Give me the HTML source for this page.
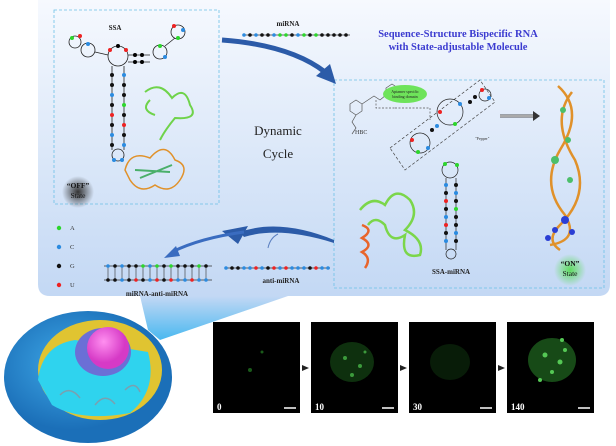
<!DOCTYPE html>
<html><head><meta charset="utf-8"><style>
html,body{margin:0;padding:0;background:#fff;}
svg{display:block;font-family:"Liberation Serif",serif;}
</style></head><body>
<svg width="616" height="446" viewBox="0 0 616 446" xmlns="http://www.w3.org/2000/svg">
<defs>
<linearGradient id="pg" x1="0" y1="0" x2="0" y2="1">
<stop offset="0" stop-color="#f6f9fe"/><stop offset="1" stop-color="#c3d8f4"/></linearGradient>
<linearGradient id="tg" x1="0" y1="0" x2="0" y2="1">
<stop offset="0" stop-color="#c3d8f4"/><stop offset="1" stop-color="#49b8f0"/></linearGradient>
<radialGradient id="glowg"><stop offset="0" stop-color="#5fdc5f"/><stop offset="1" stop-color="#5fdc5f" stop-opacity="0"/></radialGradient>
<radialGradient id="glowk"><stop offset="0" stop-color="#333"/><stop offset="1" stop-color="#333" stop-opacity="0"/></radialGradient>
<radialGradient id="cellg" cx="0.4" cy="0.4"><stop offset="0" stop-color="#3fa9e8"/><stop offset="1" stop-color="#1b6fb8"/></radialGradient>
<radialGradient id="nuc" cx="0.4" cy="0.35"><stop offset="0" stop-color="#ff8ff0"/><stop offset="1" stop-color="#d63ac6"/></radialGradient>
</defs>
<path d="M38,0 H610 V284 Q610,296 598,296 H50 Q38,296 38,284 Z" fill="url(#pg)"/>
<polygon points="140,296 288,296 160,340 148,330" fill="url(#tg)"/>
<rect x="54" y="10" width="165" height="194" fill="none" stroke="#6cc0e6" stroke-width="0.8" stroke-dasharray="3,2"/>
<rect x="334" y="80" width="270" height="208" fill="none" stroke="#6cc0e6" stroke-width="0.8" stroke-dasharray="3,2"/>
<text x="458" y="37" font-size="10.5" fill="#3b3bd0" text-anchor="middle" font-weight="bold">Sequence-Structure Bispecific RNA</text>
<text x="458" y="50" font-size="10.5" fill="#3b3bd0" text-anchor="middle" font-weight="bold">with State-adjustable Molecule</text>
<text x="278" y="135" font-size="13" fill="#222" text-anchor="middle">Dynamic</text>
<text x="278" y="158" font-size="13" fill="#222" text-anchor="middle">Cycle</text>
<text x="115" y="30" font-size="7" fill="#222" text-anchor="middle" font-weight="bold">SSA</text>
<text x="288" y="26" font-size="7" fill="#222" text-anchor="middle" font-weight="bold">miRNA</text>
<g>
<line x1="244" y1="35" x2="350" y2="35" stroke="#333" stroke-width="0.8"/>
<g fill="#111">
<circle cx="244" cy="35" r="1.8" fill="#2b8be0"/><circle cx="250" cy="35" r="1.8"/><circle cx="256" cy="35" r="1.8" fill="#2b8be0"/><circle cx="262" cy="35" r="1.8"/><circle cx="268" cy="35" r="1.8"/><circle cx="274" cy="35" r="1.8" fill="#2b8be0"/><circle cx="280" cy="35" r="1.8" fill="#2cd62c"/><circle cx="286" cy="35" r="1.8" fill="#2cd62c"/><circle cx="292" cy="35" r="1.8"/><circle cx="298" cy="35" r="1.8" fill="#2b8be0"/><circle cx="304" cy="35" r="1.8" fill="#2cd62c"/><circle cx="310" cy="35" r="1.8"/><circle cx="316" cy="35" r="1.8" fill="#2cd62c"/><circle cx="322" cy="35" r="1.8"/><circle cx="328" cy="35" r="1.8"/><circle cx="334" cy="35" r="1.8"/><circle cx="340" cy="35" r="1.8"/><circle cx="346" cy="35" r="1.8"/>
</g></g>
<path d="M222,40 Q290,45 325,72" fill="none" stroke="#2c5ba8" stroke-width="5"/>
<polygon points="316,76 336,84 330,64" fill="#2c5ba8"/>
<path d="M334,243 Q280,226 244,237 L240,232 Q280,218 334,240 Z" fill="#2c5ba8"/>
<polygon points="248,226 222,231 238,244" fill="#2c5ba8"/>
<path d="M244,232 Q200,238 172,252" fill="none" stroke="#3a6cc0" stroke-width="3"/>
<polygon points="176,246 164,258 180,256" fill="#3a6cc0"/>
<path d="M268,248 Q270,238 278,234" fill="none" stroke="#5a7fc0" stroke-width="1"/>
<g stroke="#222" stroke-width="0.8" fill="none">
<circle cx="118" cy="56" r="10"/><circle cx="88" cy="50" r="7"/><circle cx="75" cy="42" r="6"/>
<circle cx="160" cy="52" r="7"/><circle cx="178" cy="32" r="7"/>
<line x1="112" y1="66" x2="112" y2="150"/><line x1="124" y1="66" x2="124" y2="150"/>
<circle cx="118" cy="155" r="6"/>
<line x1="128" y1="55" x2="150" y2="55"/><line x1="128" y1="62" x2="150" y2="62"/>
<line x1="165" y1="46" x2="175" y2="38"/><line x1="95" y1="52" x2="108" y2="55"/>
</g>
<g>
<g fill="#111"><circle cx="112" cy="75" r="2"/><circle cx="124" cy="75" r="2" fill="#2b8be0"/><circle cx="112" cy="85" r="2"/><circle cx="124" cy="85" r="2"/><circle cx="112" cy="95" r="2" fill="#2b8be0"/><circle cx="124" cy="95" r="2"/><circle cx="112" cy="105" r="2"/><circle cx="124" cy="105" r="2" fill="#2cd62c"/><circle cx="112" cy="115" r="2" fill="#e22"/><circle cx="124" cy="115" r="2"/><circle cx="112" cy="125" r="2"/><circle cx="124" cy="125" r="2" fill="#e22"/><circle cx="112" cy="135" r="2" fill="#2b8be0"/><circle cx="124" cy="135" r="2"/><circle cx="112" cy="145" r="2"/><circle cx="124" cy="145" r="2" fill="#2b8be0"/></g>
<circle cx="114" cy="160" r="2" fill="#2b8be0"/><circle cx="122" cy="160" r="2" fill="#2b8be0"/>
<circle cx="110" cy="50" r="2" fill="#e22"/><circle cx="126" cy="50" r="2" fill="#e22"/><circle cx="118" cy="46" r="2"/>
<circle cx="72" cy="38" r="2" fill="#2cd62c"/><circle cx="80" cy="36" r="2" fill="#e22"/><circle cx="88" cy="44" r="2" fill="#2b8be0"/>
<circle cx="135" cy="55" r="2"/><circle cx="142" cy="55" r="2"/><circle cx="135" cy="62" r="2"/><circle cx="142" cy="62" r="2"/>
<circle cx="160" cy="46" r="2" fill="#2cd62c"/><circle cx="165" cy="57" r="2" fill="#2b8be0"/><circle cx="174" cy="26" r="2" fill="#e22"/><circle cx="183" cy="30" r="2" fill="#2b8be0"/><circle cx="178" cy="38" r="2" fill="#2cd62c"/>
</g>
<path d="M145,92 Q160,80 172,98 Q185,85 190,105 Q200,120 175,118 Q165,130 160,140 M150,100 Q140,110 155,115" fill="none" stroke="#6fd34a" stroke-width="2"/>
<path d="M125,170 Q130,150 150,158 Q165,140 175,160 Q190,165 180,180 Q170,195 155,185 Q140,195 130,180 Z" fill="none" stroke="#e0912a" stroke-width="1.5"/>
<path d="M135,170 L170,172 M140,178 L172,165" stroke="#4aaf6a" stroke-width="2"/>
<circle cx="78" cy="192" r="16" fill="url(#glowk)"/>
<text x="78" y="188" font-size="7.5" fill="#111" text-anchor="middle" font-weight="bold">“OFF”</text>
<text x="78" y="198" font-size="7.5" fill="#111" text-anchor="middle">State</text>
<g font-size="6.5" fill="#333">
<circle cx="59" cy="228" r="2.2" fill="#2cd62c"/><text x="70" y="230">A</text>
<circle cx="59" cy="247" r="2.2" fill="#2b8be0"/><text x="70" y="249">C</text>
<circle cx="59" cy="266" r="2.2" fill="#111"/><text x="70" y="268">G</text>
<circle cx="59" cy="285" r="2.2" fill="#e22"/><text x="70" y="287">U</text>
</g>
<line x1="104" y1="266" x2="212" y2="266" stroke="#333" stroke-width="0.8"/>
<line x1="104" y1="280" x2="212" y2="280" stroke="#333" stroke-width="0.8"/>
<g stroke="#333" stroke-width="0.6">
<line x1="108" y1="266" x2="108" y2="280"/><line x1="115" y1="266" x2="115" y2="280"/><line x1="122" y1="266" x2="122" y2="280"/><line x1="129" y1="266" x2="129" y2="280"/><line x1="136" y1="266" x2="136" y2="280"/><line x1="143" y1="266" x2="143" y2="280"/><line x1="150" y1="266" x2="150" y2="280"/><line x1="157" y1="266" x2="157" y2="280"/><line x1="164" y1="266" x2="164" y2="280"/><line x1="171" y1="266" x2="171" y2="280"/><line x1="178" y1="266" x2="178" y2="280"/><line x1="185" y1="266" x2="185" y2="280"/><line x1="192" y1="266" x2="192" y2="280"/><line x1="199" y1="266" x2="199" y2="280"/><line x1="206" y1="266" x2="206" y2="280"/>
</g>
<g fill="#111">
<circle cx="108" cy="266" r="1.8" fill="#2b8be0"/><circle cx="115" cy="266" r="1.8"/><circle cx="122" cy="266" r="1.8" fill="#2b8be0"/><circle cx="129" cy="266" r="1.8"/><circle cx="136" cy="266" r="1.8"/><circle cx="143" cy="266" r="1.8" fill="#2cd62c"/><circle cx="150" cy="266" r="1.8" fill="#2b8be0"/><circle cx="157" cy="266" r="1.8" fill="#2cd62c"/><circle cx="164" cy="266" r="1.8"/><circle cx="171" cy="266" r="1.8" fill="#2cd62c"/><circle cx="178" cy="266" r="1.8"/><circle cx="185" cy="266" r="1.8"/><circle cx="192" cy="266" r="1.8"/><circle cx="199" cy="266" r="1.8" fill="#2cd62c"/><circle cx="206" cy="266" r="1.8"/>
<circle cx="108" cy="280" r="1.8"/><circle cx="115" cy="280" r="1.8"/><circle cx="122" cy="280" r="1.8" fill="#2b8be0"/><circle cx="129" cy="280" r="1.8"/><circle cx="136" cy="280" r="1.8" fill="#e22"/><circle cx="143" cy="280" r="1.8"/><circle cx="150" cy="280" r="1.8" fill="#2b8be0"/><circle cx="157" cy="280" r="1.8" fill="#e22"/><circle cx="164" cy="280" r="1.8"/><circle cx="171" cy="280" r="1.8" fill="#e22"/><circle cx="178" cy="280" r="1.8" fill="#2b8be0"/><circle cx="185" cy="280" r="1.8" fill="#2b8be0"/><circle cx="192" cy="280" r="1.8" fill="#e22"/><circle cx="199" cy="280" r="1.8" fill="#2b8be0"/><circle cx="206" cy="280" r="1.8" fill="#2b8be0"/>
</g>
<text x="157" y="296" font-size="7" fill="#222" text-anchor="middle" font-weight="bold">miRNA-anti-miRNA</text>
<line x1="226" y1="268" x2="330" y2="268" stroke="#333" stroke-width="0.8"/>
<g fill="#2b8be0">
<circle cx="226" cy="268" r="1.8"/><circle cx="232" cy="268" r="1.8" fill="#111"/><circle cx="238" cy="268" r="1.8" fill="#111"/><circle cx="244" cy="268" r="1.8"/><circle cx="250" cy="268" r="1.8"/><circle cx="256" cy="268" r="1.8" fill="#e22"/><circle cx="262" cy="268" r="1.8"/><circle cx="268" cy="268" r="1.8" fill="#111"/><circle cx="274" cy="268" r="1.8" fill="#e22"/><circle cx="280" cy="268" r="1.8"/><circle cx="286" cy="268" r="1.8" fill="#e22"/><circle cx="292" cy="268" r="1.8"/><circle cx="298" cy="268" r="1.8"/><circle cx="304" cy="268" r="1.8"/><circle cx="310" cy="268" r="1.8" fill="#111"/><circle cx="316" cy="268" r="1.8" fill="#e22"/><circle cx="322" cy="268" r="1.8"/><circle cx="328" cy="268" r="1.8"/>
</g>
<text x="281" y="283" font-size="7" fill="#222" text-anchor="middle" font-weight="bold">anti-miRNA</text>
<g stroke="#555" stroke-width="0.7" fill="none">
<polygon points="350,104 356,100 362,104 362,111 356,115 350,111"/>
<polygon points="386,88 392,84 398,88 398,95 392,99 386,95"/>
<path d="M362,104 L374,96 L380,100 L386,95 M356,115 L352,122 L356,128 L352,134"/>
<path d="M376,100 L376,108 L395,108" stroke-dasharray="2,1.5"/>
<path d="M395,108 L430,108 L430,120" stroke-dasharray="2,1.5"/>
<polygon points="390,148 480,80 495,102 405,170" stroke="#444" stroke-dasharray="3,2"/>
<circle cx="450" cy="112" r="13" stroke="#222"/><circle cx="420" cy="143" r="10" stroke="#222"/>
<circle cx="485" cy="95" r="6" stroke="#222"/><circle cx="450" cy="170" r="8" stroke="#222"/>
<line x1="446" y1="178" x2="446" y2="250" stroke="#222"/><line x1="456" y1="178" x2="456" y2="250" stroke="#222"/>
<circle cx="451" cy="254" r="5" stroke="#222"/>
</g>
<ellipse cx="405" cy="94" rx="22" ry="9" fill="#6ee35a"/>
<text x="405" y="93" font-size="4" fill="#222" text-anchor="middle">Aptamer specific</text>
<text x="405" y="98" font-size="4" fill="#222" text-anchor="middle">binding domain</text>
<text x="355" y="134" font-size="6" fill="#333">HBC</text>
<text x="475" y="140" font-size="4" fill="#333">"Pepper"</text>
<g fill="#111">
<circle cx="446" cy="185" r="2" fill="#2b8be0"/><circle cx="456" cy="185" r="2"/><circle cx="446" cy="193" r="2"/><circle cx="456" cy="193" r="2" fill="#2b8be0"/><circle cx="446" cy="201" r="2" fill="#e22"/><circle cx="456" cy="201" r="2"/><circle cx="446" cy="209" r="2"/><circle cx="456" cy="209" r="2" fill="#2cd62c"/><circle cx="446" cy="217" r="2" fill="#2b8be0"/><circle cx="456" cy="217" r="2"/><circle cx="446" cy="225" r="2" fill="#e22"/><circle cx="456" cy="225" r="2"/><circle cx="446" cy="233" r="2"/><circle cx="456" cy="233" r="2" fill="#2b8be0"/><circle cx="446" cy="241" r="2" fill="#2b8be0"/><circle cx="456" cy="241" r="2"/>
<circle cx="440" cy="112" r="2" fill="#e22"/><circle cx="460" cy="104" r="2" fill="#2b8be0"/><circle cx="455" cy="124" r="2" fill="#2cd62c"/><circle cx="412" cy="140" r="2" fill="#e22"/><circle cx="418" cy="152" r="2" fill="#2cd62c"/><circle cx="428" cy="148" r="2" fill="#2b8be0"/><circle cx="482" cy="90" r="2" fill="#e22"/><circle cx="489" cy="98" r="2" fill="#2b8be0"/><circle cx="470" cy="102" r="2"/><circle cx="475" cy="97" r="2"/><circle cx="432" cy="130" r="2"/><circle cx="437" cy="126" r="2" fill="#2b8be0"/><circle cx="445" cy="164" r="2" fill="#2cd62c"/><circle cx="457" cy="165" r="2" fill="#2cd62c"/>
</g>
<text x="451" y="274" font-size="7" fill="#222" text-anchor="middle" font-weight="bold">SSA-miRNA</text>
<path d="M360,210 Q372,195 385,205 Q395,185 410,200 Q420,215 405,230 Q425,240 420,255 Q400,260 405,235 Q390,245 385,225 Q375,215 368,225" fill="none" stroke="#7bd64a" stroke-width="2.5"/>
<path d="M362,225 Q375,230 362,238 Q375,245 362,252 Q372,258 365,268" fill="none" stroke="#e8642a" stroke-width="2.5"/>
<line x1="500" y1="116" x2="533" y2="116" stroke="#555" stroke-width="3"/>
<line x1="500" y1="116" x2="533" y2="116" stroke="#fff" stroke-width="1"/>
<polygon points="533,111 540,116 533,121" fill="#333"/>
<path d="M558,86 Q585,110 560,150 Q540,185 565,215 Q580,240 550,245 M572,92 Q550,120 575,160 Q590,195 560,225 Q545,240 560,250" fill="none" stroke="#e0912a" stroke-width="2.5"/>
<g fill="#4cbf6a"><circle cx="563" cy="110" r="3"/><circle cx="568" cy="140" r="3"/><circle cx="555" cy="160" r="4"/><circle cx="570" cy="180" r="3"/></g>
<g fill="#2a3ed4"><circle cx="565" cy="220" r="4"/><circle cx="555" cy="230" r="3"/><circle cx="572" cy="232" r="3"/><circle cx="548" cy="238" r="3"/></g>
<circle cx="570" cy="270" r="16" fill="url(#glowg)"/>
<text x="570" y="266" font-size="7.5" fill="#111" text-anchor="middle" font-weight="bold">“ON”</text>
<text x="570" y="276" font-size="7.5" fill="#111" text-anchor="middle">State</text>
<ellipse cx="88" cy="377" rx="84" ry="66" fill="url(#cellg)"/>
<ellipse cx="100" cy="370" rx="62" ry="50" fill="#e0c431"/>
<path d="M38,380 Q42,345 75,340 L148,352 Q158,390 130,413 Q80,422 52,405 Z" fill="#2fd3ee"/>
<ellipse cx="103" cy="352" rx="28" ry="24" fill="#6b6fd6"/>
<circle cx="108" cy="348" r="21" fill="url(#nuc)"/>
<path d="M60,395 Q70,385 80,398 M95,405 Q105,392 115,404 M125,390 Q135,380 140,392" fill="none" stroke="#7aa0b0" stroke-width="1.5"/>
<g>
<rect x="213" y="322" width="87" height="91" fill="#000"/>
<rect x="311" y="322" width="87" height="91" fill="#000"/>
<rect x="409" y="322" width="87" height="91" fill="#000"/>
<rect x="507" y="322" width="87" height="91" fill="#000"/>
<g fill="#1a5a1a"><circle cx="250" cy="370" r="2"/><circle cx="262" cy="352" r="1.5"/></g>
<ellipse cx="352" cy="362" rx="22" ry="20" fill="#0e300e"/>
<g fill="#3c9a3c"><circle cx="345" cy="358" r="2"/><circle cx="360" cy="366" r="2"/><circle cx="352" cy="375" r="2"/><circle cx="365" cy="352" r="1.5"/></g>
<ellipse cx="450" cy="362" rx="20" ry="18" fill="#081c08"/>
<ellipse cx="552" cy="360" rx="24" ry="22" fill="#174a17"/>
<g fill="#55c855"><circle cx="545" cy="355" r="2.5"/><circle cx="560" cy="362" r="2.5"/><circle cx="552" cy="372" r="2"/><circle cx="565" cy="350" r="2"/><circle cx="540" cy="380" r="2"/><circle cx="562" cy="340" r="2"/></g>
<g fill="#fff" font-size="9" font-weight="bold">
<text x="217" y="410">0</text><text x="315" y="410">10</text><text x="413" y="410">30</text><text x="511" y="410">140</text>
</g>
<g stroke="#fff" stroke-width="1.5">
<line x1="284" y1="408" x2="296" y2="408"/><line x1="382" y1="408" x2="394" y2="408"/><line x1="480" y1="408" x2="492" y2="408"/><line x1="578" y1="408" x2="590" y2="408"/>
</g>
<g fill="#222"><polygon points="302,365 309,368 302,371"/><polygon points="400,365 407,368 400,371"/><polygon points="498,365 505,368 498,371"/></g>
</g>
</svg>
</body></html>
